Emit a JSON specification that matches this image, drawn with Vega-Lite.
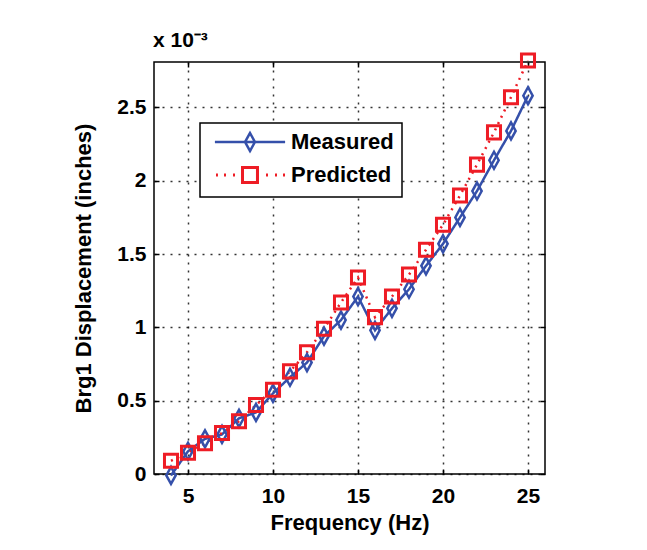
{
  "$schema": "https://vega.github.io/schema/vega-lite/v6.json",
  "width": 391,
  "height": 412,
  "autosize": {"type": "none"},
  "padding": {"left": 154, "top": 62, "right": 102, "bottom": 76},
  "background": "white",
  "title": {"text": "x 10⁻³", "anchor": "start", "frame": "group", "offset": -3, "fontSize": 21, "font": "Liberation Sans", "fontWeight": "bold", "color": "#000", "dx": -1},
  "config": {"view": {"stroke": "#000", "strokeWidth": 1.5}, "font": "Liberation Sans"},
  "data": {"values": [
    {"frequency": 4, "displacement": -0.00001, "series": "Measured"},
    {"frequency": 5, "displacement": 0.000155, "series": "Measured"},
    {"frequency": 6, "displacement": 0.00024, "series": "Measured"},
    {"frequency": 7, "displacement": 0.00027, "series": "Measured"},
    {"frequency": 8, "displacement": 0.00038, "series": "Measured"},
    {"frequency": 9, "displacement": 0.00042, "series": "Measured"},
    {"frequency": 10, "displacement": 0.00055, "series": "Measured"},
    {"frequency": 11, "displacement": 0.00066, "series": "Measured"},
    {"frequency": 12, "displacement": 0.00076, "series": "Measured"},
    {"frequency": 13, "displacement": 0.00094, "series": "Measured"},
    {"frequency": 14, "displacement": 0.00105, "series": "Measured"},
    {"frequency": 15, "displacement": 0.00121, "series": "Measured"},
    {"frequency": 16, "displacement": 0.00098, "series": "Measured"},
    {"frequency": 17, "displacement": 0.00113, "series": "Measured"},
    {"frequency": 18, "displacement": 0.00126, "series": "Measured"},
    {"frequency": 19, "displacement": 0.00142, "series": "Measured"},
    {"frequency": 20, "displacement": 0.00157, "series": "Measured"},
    {"frequency": 21, "displacement": 0.00175, "series": "Measured"},
    {"frequency": 22, "displacement": 0.00193, "series": "Measured"},
    {"frequency": 23, "displacement": 0.00214, "series": "Measured"},
    {"frequency": 24, "displacement": 0.00234, "series": "Measured"},
    {"frequency": 25, "displacement": 0.00258, "series": "Measured"},
    {"frequency": 4, "displacement": 0.00009, "series": "Predicted"},
    {"frequency": 5, "displacement": 0.000145, "series": "Predicted"},
    {"frequency": 6, "displacement": 0.00021, "series": "Predicted"},
    {"frequency": 7, "displacement": 0.00028, "series": "Predicted"},
    {"frequency": 8, "displacement": 0.00036, "series": "Predicted"},
    {"frequency": 9, "displacement": 0.00047, "series": "Predicted"},
    {"frequency": 10, "displacement": 0.000575, "series": "Predicted"},
    {"frequency": 11, "displacement": 0.0007, "series": "Predicted"},
    {"frequency": 12, "displacement": 0.00083, "series": "Predicted"},
    {"frequency": 13, "displacement": 0.00099, "series": "Predicted"},
    {"frequency": 14, "displacement": 0.00117, "series": "Predicted"},
    {"frequency": 15, "displacement": 0.00134, "series": "Predicted"},
    {"frequency": 16, "displacement": 0.00107, "series": "Predicted"},
    {"frequency": 17, "displacement": 0.00121, "series": "Predicted"},
    {"frequency": 18, "displacement": 0.00136, "series": "Predicted"},
    {"frequency": 19, "displacement": 0.00153, "series": "Predicted"},
    {"frequency": 20, "displacement": 0.0017, "series": "Predicted"},
    {"frequency": 21, "displacement": 0.0019, "series": "Predicted"},
    {"frequency": 22, "displacement": 0.00211, "series": "Predicted"},
    {"frequency": 23, "displacement": 0.00233, "series": "Predicted"},
    {"frequency": 24, "displacement": 0.00257, "series": "Predicted"},
    {"frequency": 25, "displacement": 0.00282, "series": "Predicted"}
  ]},
  "encoding": {
    "color": {
      "field": "series", "type": "nominal",
      "scale": {"domain": ["Measured", "Predicted"], "range": ["#3550aa", "#ee1c25"]},
      "legend": {
        "orient": "none", "legendX": 46, "legendY": 61, "title": null,
        "strokeColor": "#000", "fillColor": "#fff", "padding": 8,
        "symbolSize": 324, "symbolOffset": 31, "labelOffset": 30,
        "labelFontSize": 22, "labelFont": "Liberation Sans", "labelFontWeight": "bold", "labelColor": "#000",
        "rowPadding": 5,
        "encode": {
          "legend": {"update": {"strokeWidth": {"value": 1.5}}},
          "symbols": {"update": {
            "shape": {"signal": "datum.value === 'Measured' ? 'M-3.9,0L3.9,0M0,-1L0.55,0L0,1L-0.55,0Z' : 'M-3.78,0L-3.56,0M-2.89,0L-2.67,0M-1.89,0L-1.67,0M1.78,0L2,0M2.78,0L3,0M3.67,0L3.89,0M-0.83,-0.83L0.83,-0.83L0.83,0.83L-0.83,0.83Z'"},
            "strokeWidth": {"signal": "datum.value === 'Measured' ? 2.5 : 3"},
            "fill": {"value": "transparent"},
            "strokeDash": {"value": [1, 0]},
            "opacity": {"value": 1}
          }}
        }
      }
    }
  },
  "layer": [
    {
      "mark": {"type": "line", "strokeWidth": 2.5},
      "encoding": {
        "x": {"field": "frequency", "type": "quantitative", "scale": {"domain": [3, 26], "nice": false},
          "axis": {"orient": "bottom", "values": [5, 10, 15, 20, 25], "title": "Frequency (Hz)",
            "titleFontSize": 22, "titleFontWeight": "bold", "titleFont": "Liberation Sans", "titleColor": "#000", "titlePadding": 6,
            "labelFontSize": 21, "labelFontWeight": "bold", "labelFont": "Liberation Sans", "labelColor": "#000", "labelPadding": 16,
            "tickSize": -5, "tickColor": "#000", "tickWidth": 1.5, "domain": false,
            "grid": true, "gridDash": [2, 6], "gridColor": "#000", "gridWidth": 1.5, "gridOpacity": 0.8}},
        "y": {"field": "displacement", "type": "quantitative", "scale": {"domain": [0, 0.00281], "nice": false, "zero": false},
          "axis": {"orient": "left", "values": [0, 0.0005, 0.001, 0.0015, 0.002, 0.0025],
            "labelExpr": "format(datum.value*1000, '.2~f')",
            "title": "Brg1 Displacement (inches)",
            "titleFontSize": 22, "titleFontWeight": "bold", "titleFont": "Liberation Sans", "titleColor": "#000", "titlePadding": 21,
            "labelFontSize": 21, "labelFontWeight": "bold", "labelFont": "Liberation Sans", "labelColor": "#000", "labelPadding": 13,
            "tickSize": -5, "tickColor": "#000", "tickWidth": 1.5, "domain": false,
            "grid": true, "gridDash": [2, 6], "gridColor": "#000", "gridWidth": 1.5, "gridOpacity": 0.8}},
        "strokeDash": {"condition": {"test": "datum.series === 'Measured'", "value": [1, 0]}, "value": [2, 5]},
        "strokeWidth": {"condition": {"test": "datum.series === 'Measured'", "value": 2.5}, "value": 2}
      }
    },
    {
      "mark": {"type": "point", "filled": false, "opacity": 1},
      "encoding": {
        "x": {"field": "frequency", "type": "quantitative",
          "axis": {"orient": "top", "values": [5, 10, 15, 20, 25], "labels": false, "title": null,
            "tickSize": -5, "tickColor": "#000", "tickWidth": 1.5, "domain": false, "grid": false}},
        "y": {"field": "displacement", "type": "quantitative",
          "axis": {"orient": "right", "values": [0, 0.0005, 0.001, 0.0015, 0.002, 0.0025], "labels": false, "title": null,
            "tickSize": -5, "tickColor": "#000", "tickWidth": 1.5, "domain": false, "grid": false}},
        "shape": {"condition": {"test": "datum.series === 'Measured'", "value": "M0,-1L0.55,0L0,1L-0.55,0Z"}, "value": "square"},
        "size": {"condition": {"test": "datum.series === 'Measured'", "value": 289}, "value": 170},
        "strokeWidth": {"condition": {"test": "datum.series === 'Measured'", "value": 2.5}, "value": 3}
      }
    }
  ],
  "resolve": {"axis": {"x": "independent", "y": "independent"}}
}
